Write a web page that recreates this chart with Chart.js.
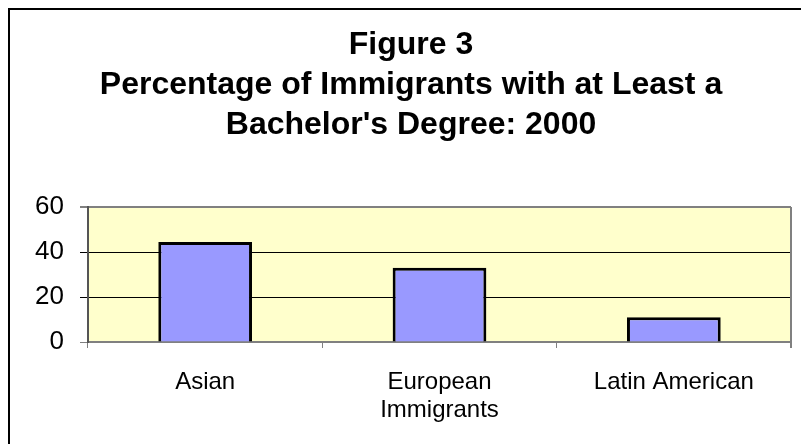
<!DOCTYPE html>
<html>
<head>
<meta charset="utf-8">
<script src="https://cdn.jsdelivr.net/npm/chart.js@4/dist/chart.umd.min.js"></script>
<style>
  html, body { margin: 0; padding: 0; background: #fff; overflow: hidden; }
</style>
</head>
<body>
<canvas id="chart" width="801" height="444"></canvas>
<script>
const categories = ["Asian", ["European", "Immigrants"], "Latin American"];
const percentValues = [44.5, 33, 11];
const yTicks = [0, 20, 40, 60];
const titleLines = [
  "Figure 3",
  "Percentage of Immigrants with at Least a",
  "Bachelor's Degree: 2000",
];

// plot background, right edge of plot and outer frame
const frame = {
  id: "frame",
  beforeDraw(chart) {
    const { ctx, chartArea: a } = chart;
    ctx.save();
    ctx.fillStyle = "#FFFFCC";
    ctx.fillRect(a.left, a.top, a.right - a.left, a.bottom - a.top);
    ctx.restore();
  },
  afterDraw(chart) {
    const { ctx, chartArea: a } = chart;
    ctx.save();
    ctx.strokeStyle = "#808080";
    ctx.lineWidth = 2;
    ctx.beginPath();
    ctx.moveTo(a.right, a.top);
    ctx.lineTo(a.right, a.bottom + 6);
    ctx.stroke();
    ctx.strokeStyle = "#000";
    ctx.lineWidth = 2;
    ctx.beginPath();
    ctx.moveTo(9, 444);
    ctx.lineTo(9, 9);
    ctx.lineTo(801, 9);
    ctx.stroke();
    ctx.restore();
  },
};

new Chart(document.getElementById("chart"), {
  type: "bar",
  data: {
    labels: categories,
    datasets: [
      {
        data: percentValues,
        backgroundColor: "#9999FF",
        borderColor: "#000",
        borderWidth: 3,
        barPercentage: 0.4,
        categoryPercentage: 1,
      },
    ],
  },
  options: {
    responsive: false,
    animation: false,
    layout: { padding: { left: 31, right: 10, top: 0, bottom: 0 } },
    plugins: {
      legend: { display: false },
      tooltip: { enabled: false },
      title: {
        display: true,
        text: titleLines,
        color: "#000",
        font: { family: "Liberation Sans, Arial", size: 32, weight: "bold", lineHeight: 40 / 32 },
        padding: { top: 25, bottom: 62 },
      },
    },
    scales: {
      x: {
        grid: {
          offset: true,
          drawOnChartArea: false,
          tickLength: 6,
          color: "#808080",
        },
        border: { color: "#808080", width: 2 },
        ticks: {
          color: "#000",
          padding: 20,
          maxRotation: 0,
          font: { family: "Liberation Sans, Arial", size: 24, lineHeight: 28 / 24 },
        },
        afterFit(scale) { scale.height = 102; },
      },
      y: {
        min: 0,
        max: 60,
        afterBuildTicks(scale) { scale.ticks = yTicks.map((v) => ({ value: v })); },
        grid: {
          tickLength: 8,
          color: (c) => (c.tick && (c.tick.value === 60 || c.tick.value === 0) ? "#808080" : "#000"),
          lineWidth: (c) => (c.tick && c.tick.value === 60 ? 2 : 1),
        },
        border: { color: "#555", width: 2 },
        ticks: {
          color: "#000",
          padding: 16,
          font: { family: "Liberation Sans, Arial", size: 26 },
        },
        afterFit(scale) { scale.width = 57; },
      },
    },
  },
  plugins: [frame],
});
</script>
</body>
</html>
